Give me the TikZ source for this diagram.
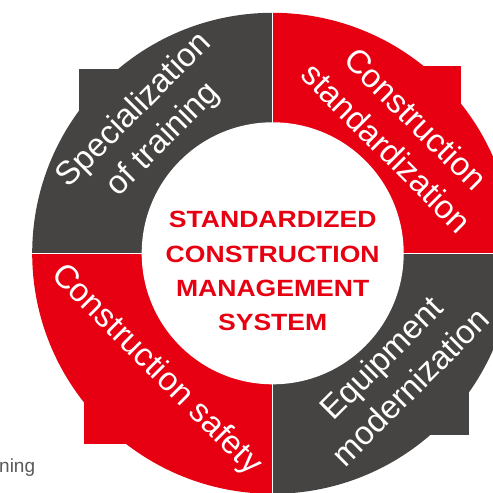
\documentclass[tikz,border=0pt]{standalone}
\usepackage{fontspec}
\setmainfont{Liberation Sans}
\newfontfamily\coreFont{Liberation Sans}[FakeStretch=1.13]
\usetikzlibrary{positioning}
\definecolor{ringRed}{RGB}{230,0,18}
\definecolor{ringGray}{RGB}{70,68,66}
\newdimen\ringOut
\newdimen\ringIn
\tikzstyle{gap} = [white,line width=1.2pt]

\begin{document}
\begin{tikzpicture} [
    x=1pt,y=1pt,
    seg/.style={text=white,align=center,inner sep=0pt,font=\fontsize{33}{41}\selectfont},
    core/.style={text=ringRed,align=center,inner sep=0pt,font=\coreFont\bfseries\fontsize{23.5}{34.4}\selectfont},
    cut/.style={text=black!65,inner sep=0pt,anchor=base west,font=\fontsize{19}{22}\selectfont},
    ]
    \ringOut=240.5pt
    \ringIn=131pt
    \clip (-272.7,-239.7) rectangle (220.3,253.3);

    % four quarters, each with its square corner
    \fill[ringGray] (0,0) -- (90:\ringOut) arc (90:180:\ringOut) -- cycle;
    \fill[ringGray] (0,0) rectangle (-193.4,184.3);
    \fill[ringRed] (0,0) -- (0:\ringOut) arc (0:90:\ringOut) -- cycle;
    \fill[ringRed] (0,0) rectangle (188,187);
    \fill[ringRed] (0,0) -- (180:\ringOut) arc (180:270:\ringOut) -- cycle;
    \fill[ringRed] (0,0) rectangle (-188.7,-190.7);
    \fill[ringGray] (0,0) -- (270:\ringOut) arc (270:360:\ringOut) -- cycle;
    \fill[ringGray] (0,0) rectangle (196.3,-181.7);
    \draw[gap] (90:250) -- (270:250);
    \draw[gap] (0:250) -- (180:250);
    \fill[white] (0,0) circle (\ringIn);

    \coordinate (hub) at (0,0);
    \node [core] (core) at (0,-18) {STANDARDIZED\\CONSTRUCTION\\MANAGEMENT\\SYSTEM};
    \path (hub) ++(134:178) node [seg,rotate=45] (train) {Specialization\\of training};
    \path (hub) ++(43:176) node [seg,rotate=-45] (stand) {Construction\\standardization};
    \path (hub) ++(225:165) node [seg,rotate=-45] (safe) {Construction safety};
    \path (hub) ++(-44:171) node [seg,rotate=45] (equip) {Equipment\\modernization};
    \node [cut] (ning) at (-273.7,-219.2) {ning};
\end{tikzpicture}
\end{document}
